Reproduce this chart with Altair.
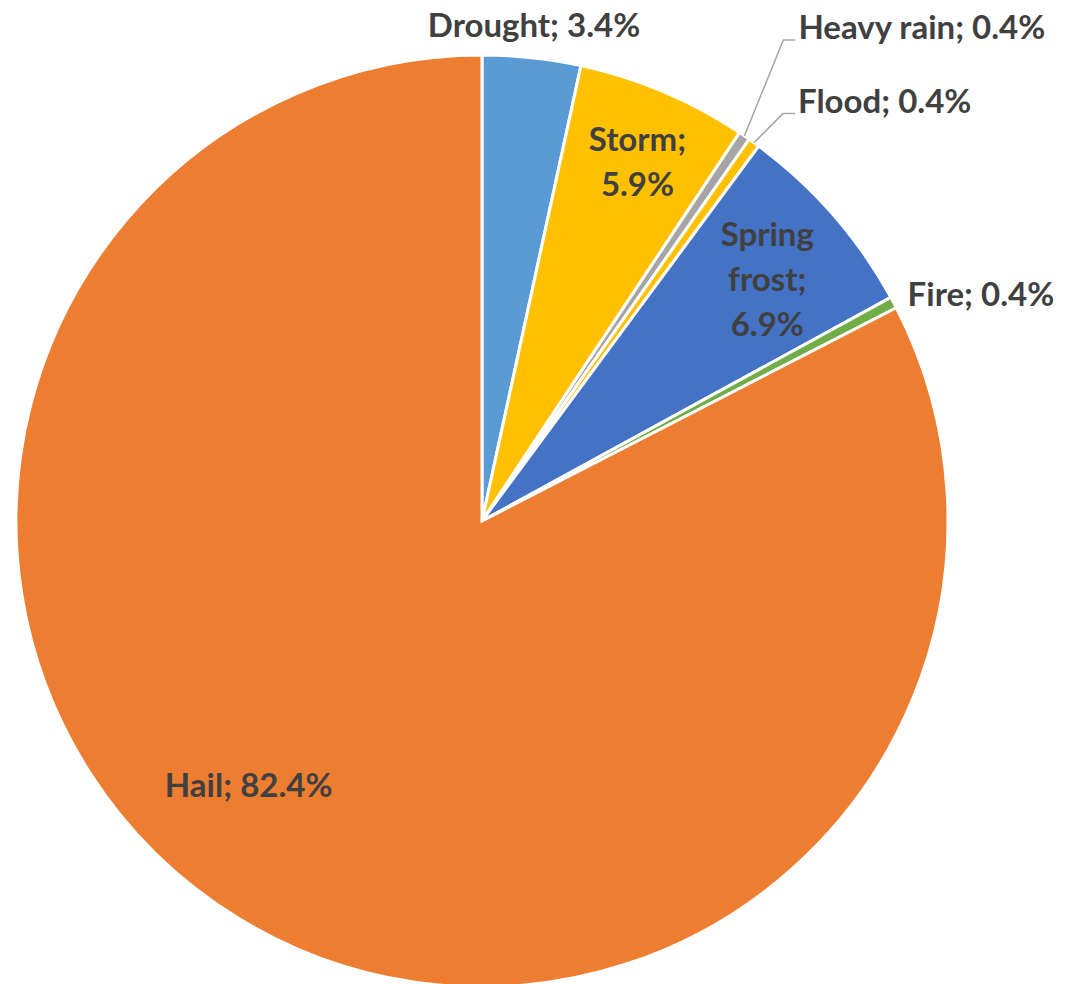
import math

import altair as alt
import pandas as pd

# Share of insured damage by peril, clockwise from 12 o'clock
categories = ["Drought", "Storm", "Heavy rain", "Flood", "Spring frost", "Fire", "Hail"]
shares = [3.4, 5.9, 0.4, 0.4, 6.9, 0.4, 82.4]
colors = ["#5B9BD5", "#FFC000", "#A5A5A5", "#FFC000", "#4472C4", "#70AD47", "#ED7D31"]

# Label text, with line breaks for the labels drawn inside narrow slices
label_lines = {
    "Storm": "{name};\n{pct}",
    "Spring frost": "Spring\nfrost;\n{pct}",
}

W, H = 1065, 984
CX, CY, R = 482, 521, 466
FONT = "Lato"
FS = 33
LH = 45
TEXT_COLOR = "#404040"
LEADER_COLOR = "#A6A6A6"

total = sum(shares)


def mid_angle(i):
    start = sum(shares[:i])
    return (start + shares[i] / 2) / total * 2 * math.pi


def polar(theta, r):
    return CX + r * math.sin(theta), CY - r * math.cos(theta)


# Label placement: radius along the slice's mid angle, then a pixel nudge;
# "left" labels sit outside the pie next to their slice.
layout = {
    "Drought": ("center", 487, 0, 0),
    "Storm": ("center", 402, -1, 0),
    "Spring frost": ("center", 380, -1, -25),
    "Hail": ("center", 354, -49, -26),
    "Heavy rain": ("left", R, 54, -97),
    "Flood": ("left", R, 44, -30),
    "Fire": ("left", R, 14, 3),
}
leader_for = ["Heavy rain", "Flood"]

slices = pd.DataFrame({
    "category": categories,
    "share": shares,
    "order": list(range(len(categories))),
})

label_rows = []
leader_rows = []
for i, (cat, val) in enumerate(zip(categories, shares)):
    pct = f"{val:.1f}%"
    fmt = label_lines.get(cat, "{name}; {pct}")
    text = fmt.format(name=cat, pct=pct)
    align, r, dx, dy = layout[cat]
    theta = mid_angle(i)
    ax, ay = polar(theta, r)
    tx, ty = ax + dx, ay + dy
    label_rows.append({"category": cat, "text": text, "align": align, "px": tx, "py": ty})
    if cat in leader_for:
        ex, ey = polar(theta, R)
        pts = [(ex, ey), (tx - 15, ty + 1), (tx - 3, ty + 1)]
        for k, (lx, ly) in enumerate(pts):
            leader_rows.append({"category": cat, "step": k, "lx": lx, "ly": ly})

labels = pd.DataFrame(label_rows)
leaders = pd.DataFrame(leader_rows)

pie = alt.Chart(slices).mark_arc(
    radius=R, stroke="white", strokeWidth=3
).encode(
    theta=alt.Theta("share:Q", stack=True, scale=alt.Scale(domain=[0, total])),
    order=alt.Order("order:Q", sort="ascending"),
    color=alt.Color(
        "category:N",
        scale=alt.Scale(domain=categories, range=colors),
        legend=None,
    ),
    x=alt.value(CX),
    y=alt.value(CY),
)

leader_lines = alt.Chart(leaders).mark_line(
    color=LEADER_COLOR, strokeWidth=1.5
).encode(
    x=alt.X("lx:Q", scale=None, axis=None),
    y=alt.Y("ly:Q", scale=None, axis=None),
    detail="category:N",
    order="step:Q",
)


def text_layer(align):
    return alt.Chart(labels).transform_filter(
        alt.datum.align == align
    ).mark_text(
        align=align,
        baseline="alphabetic",
        font=FONT,
        fontSize=FS,
        fontWeight="bold",
        color=TEXT_COLOR,
        lineBreak="\n",
        lineHeight=LH,
    ).encode(
        x=alt.X("px:Q", scale=None, axis=None),
        y=alt.Y("py:Q", scale=None, axis=None),
        text="text:N",
    )


chart = alt.layer(
    pie, leader_lines, text_layer("center"), text_layer("left")
).properties(
    width=W,
    height=H,
    autosize=alt.AutoSizeParams(type="none"),
    padding=0,
    background="white",
).configure_view(stroke=None)

chart.save("out.html", embed_options={"renderer": "svg", "actions": False})
